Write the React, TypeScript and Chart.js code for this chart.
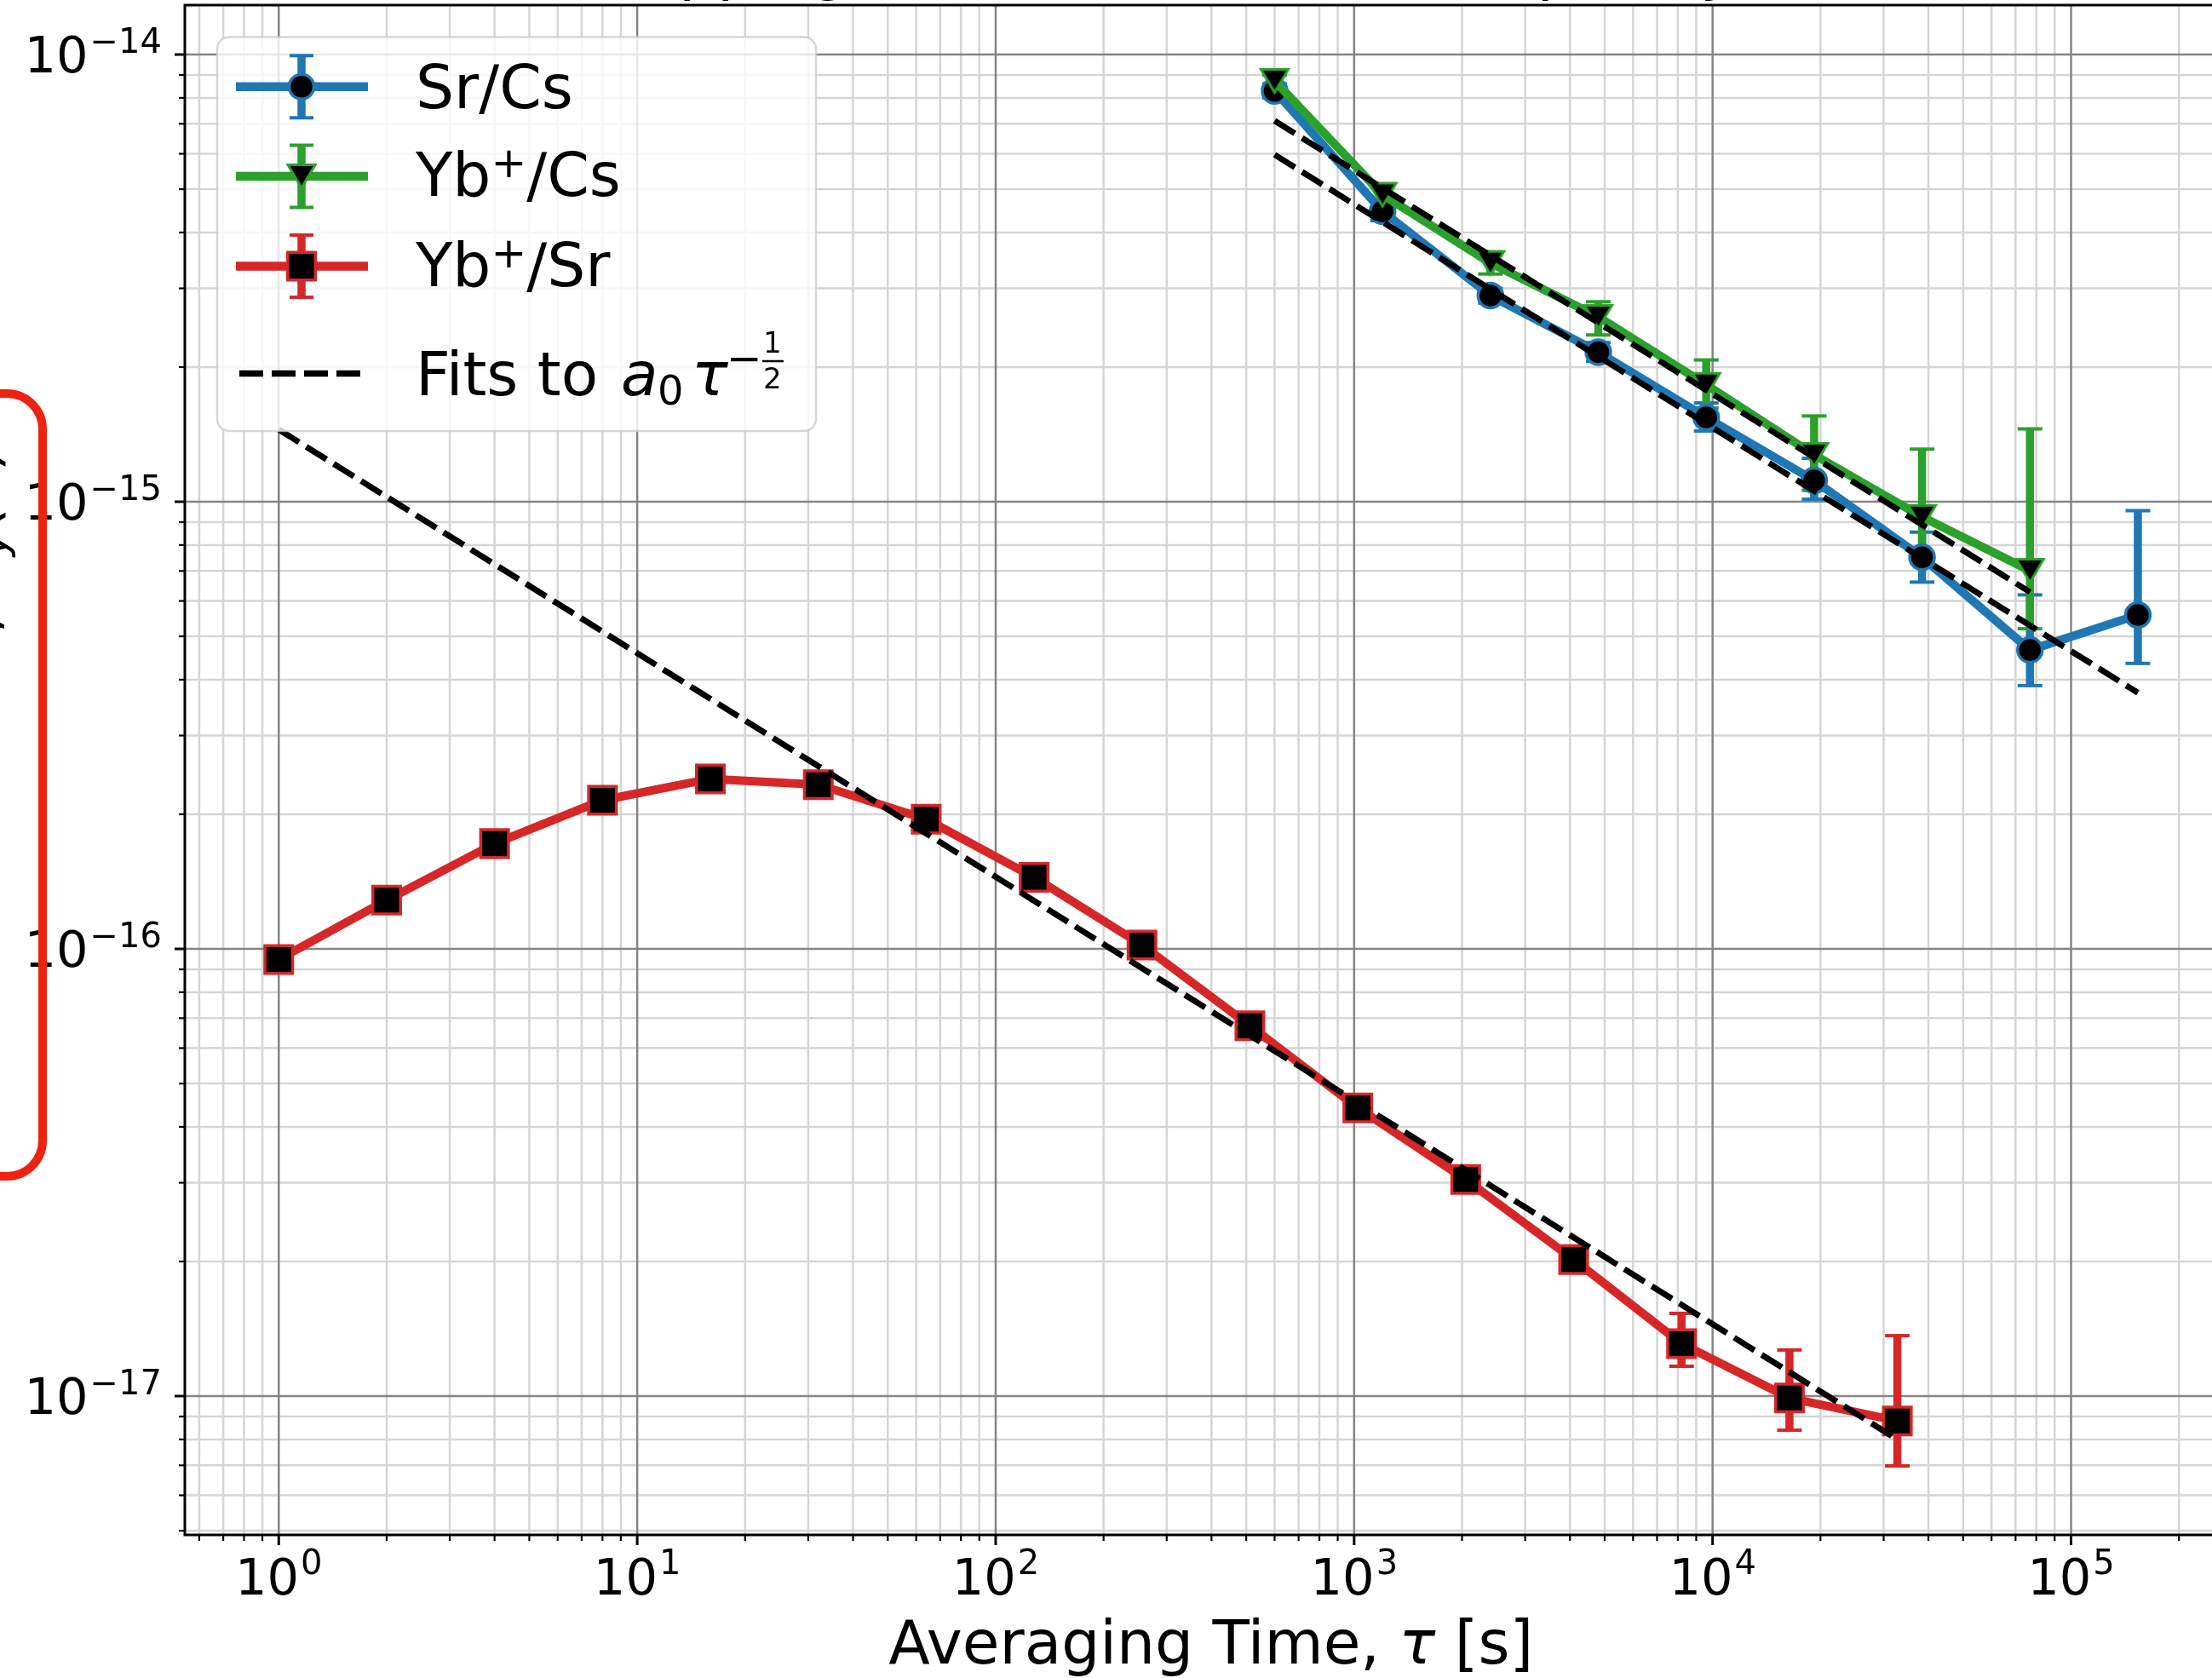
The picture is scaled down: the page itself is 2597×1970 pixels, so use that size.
import React, { useEffect, useRef } from 'react';
import { Chart, registerables } from 'chart.js';

Chart.register(...registerables);

// ---------------- data ----------------
const srCsTau = [600, 1200, 2400, 4800, 9600, 19200, 38400, 76800, 153600];
const srCsDev = [8.29e-15, 4.46e-15, 2.89e-15, 2.16e-15, 1.544e-15, 1.116e-15, 7.51e-16, 4.66e-16, 5.58e-16];
const srCsLo = [8.0e-15, 4.25e-15, 2.78e-15, 2.06e-15, 1.439e-15, 1.013e-15, 6.61e-16, 3.88e-16, 4.35e-16];
const srCsHi = [8.6e-15, 4.68e-15, 3.0e-15, 2.27e-15, 1.663e-15, 1.25e-15, 8.55e-16, 6.19e-16, 9.55e-16];

const ybCsTau = [600, 1200, 2400, 4800, 9600, 19200, 38400, 76800];
const ybCsDev = [8.73e-15, 4.86e-15, 3.42e-15, 2.59e-15, 1.826e-15, 1.273e-15, 9.25e-16, 7.01e-16];
const ybCsLo = [8.45e-15, 4.65e-15, 3.23e-15, 2.36e-15, 1.62e-15, 1.06e-15, 7.3e-16, 5.2e-16];
const ybCsHi = [9.0e-15, 5.1e-15, 3.62e-15, 2.8e-15, 2.075e-15, 1.555e-15, 1.311e-15, 1.455e-15];

const ybSrTau = [1, 2, 4, 8, 16, 32, 64, 128, 256, 512, 1024, 2048, 4096, 8192, 16384, 32768];
const ybSrDev = [9.47e-17, 1.285e-16, 1.72e-16, 2.15e-16, 2.4e-16, 2.33e-16, 1.95e-16, 1.445e-16, 1.02e-16, 6.73e-17, 4.41e-17, 3.05e-17, 2.02e-17, 1.31e-17, 9.9e-18, 8.8e-18];
const ybSrLo = [9.33e-17, 1.266e-16, 1.694e-16, 2.118e-16, 2.364e-16, 2.295e-16, 1.92e-16, 1.423e-16, 1.0e-16, 6.6e-17, 4.3e-17, 2.96e-17, 1.92e-17, 1.166e-17, 8.39e-18, 6.98e-18];
const ybSrHi = [9.61e-17, 1.304e-16, 1.746e-16, 2.182e-16, 2.436e-16, 2.365e-16, 1.98e-16, 1.467e-16, 1.04e-16, 6.86e-17, 4.52e-17, 3.14e-17, 2.15e-17, 1.531e-17, 1.268e-17, 1.365e-17];

const fitSrCsTau = [600, 153600];
const fitSrCsDev = [5.97e-15, 3.74e-16];
const fitYbCsTau = [600, 76800];
const fitYbCsDev = [7.11e-15, 6.28e-16];
const fitYbSrTau = [1, 32768];
const fitYbSrDev = [1.45e-15, 8.0e-18];

const xTickValues = [1, 10, 100, 1000, 10000, 100000];
const xTickExponents = ['0', '1', '2', '3', '4', '5'];
const yTickValues = [1e-17, 1e-16, 1e-15, 1e-14];
const yTickExponents = ['\u221217', '\u221216', '\u221215', '\u221214'];

const seriesNames = ['Sr/Cs', 'Yb+/Cs', 'Yb+/Sr'];
const xLabelParts = ['Averaging Time, ', '\u03c4', ' [s]'];
const titleText = 'Overlapping Allan Deviation of Frequency Ratios';
const yLabelParts = ['Allan Deviation, ', '\u03c3', 'y', '(', '\u03c4', ')'];

// ---------------- layout / style ----------------
const X_MIN = 0.547;
const X_MAX = 2.906e5;
const Y_MIN = 4.893e-18;
const Y_MAX = 1.2898e-14;

const OX = 100;
const OY = 100;
const CW = 2753;
const CH = 2070;

const BLUE = '#1f77b4';
const GREEN = '#2ca02c';
const RED = '#d62728';
const MAJOR_GRID = '#858585';
const MINOR_GRID = '#d5d5d5';
const FONT = '"DejaVu Sans"';
const DATA_LW = 10;

type Part = { t: string; size: number; italic?: boolean; dy?: number; dx?: number };

function fontStr(p: Part) {
  return `${p.italic ? 'italic ' : ''}${p.size}px ${FONT}`;
}
function partsWidth(ctx: CanvasRenderingContext2D, parts: Part[]) {
  let w = 0;
  for (const p of parts) {
    ctx.font = fontStr(p);
    w += ctx.measureText(p.t).width + (p.dx || 0);
  }
  return w;
}
function drawParts(ctx: CanvasRenderingContext2D, parts: Part[], x: number, y: number) {
  let cx = x;
  ctx.textAlign = 'left';
  ctx.textBaseline = 'alphabetic';
  for (const p of parts) {
    ctx.font = fontStr(p);
    cx += p.dx || 0;
    ctx.fillText(p.t, cx, y + (p.dy || 0));
    cx += ctx.measureText(p.t).width;
  }
}

function gridValues(e0: number, e1: number, lo: number, hi: number) {
  const out: { v: number; major: boolean }[] = [];
  for (let e = e0; e <= e1; e++) {
    for (let k = 1; k <= 9; k++) {
      const v = k * Math.pow(10, e);
      if (v >= lo * 0.9999 && v <= hi * 1.0001) out.push({ v, major: k === 1 });
    }
  }
  return out;
}

function makeTriangle(color: string) {
  const c = document.createElement('canvas');
  c.width = 46;
  c.height = 42;
  const g = c.getContext('2d')!;
  g.beginPath();
  g.moveTo(23 - 16, 21 - 13.5);
  g.lineTo(23 + 16, 21 - 13.5);
  g.lineTo(23, 21 + 13.5);
  g.closePath();
  g.fillStyle = '#000';
  g.fill();
  g.lineJoin = 'miter';
  g.lineWidth = 3;
  g.strokeStyle = color;
  g.stroke();
  return c;
}

function line(ctx: CanvasRenderingContext2D, x1: number, y1: number, x2: number, y2: number) {
  ctx.beginPath();
  ctx.moveTo(x1, y1);
  ctx.lineTo(x2, y2);
  ctx.stroke();
}

function roundRect(ctx: CanvasRenderingContext2D, x: number, y: number, w: number, h: number, r: number) {
  ctx.beginPath();
  ctx.moveTo(x + r, y);
  ctx.lineTo(x + w - r, y);
  ctx.arcTo(x + w, y, x + w, y + r, r);
  ctx.lineTo(x + w, y + h - r);
  ctx.arcTo(x + w, y + h, x + w - r, y + h, r);
  ctx.lineTo(x + r, y + h);
  ctx.arcTo(x, y + h, x, y + h - r, r);
  ctx.lineTo(x, y + r);
  ctx.arcTo(x, y, x + r, y, r);
  ctx.closePath();
}

function drawErrors(ctx: CanvasRenderingContext2D, xs: any, ys: any, tau: number[], lo: number[], hi: number[], color: string) {
  ctx.strokeStyle = color;
  ctx.lineCap = 'butt';
  for (let i = 0; i < tau.length; i++) {
    const x = xs.getPixelForValue(tau[i]);
    const y1 = ys.getPixelForValue(hi[i]);
    const y2 = ys.getPixelForValue(lo[i]);
    ctx.lineWidth = 9.5;
    line(ctx, x, y1, x, y2);
    ctx.lineWidth = 4;
    line(ctx, x - 14.5, y1, x + 14.5, y1);
    line(ctx, x - 14.5, y2, x + 14.5, y2);
  }
}

function toPoints(xv: number[], yv: number[]) {
  return xv.map((x, i) => ({ x, y: yv[i] }));
}

export default function App() {
  const ref = useRef<HTMLCanvasElement>(null);

  useEffect(() => {
    const canvas = ref.current!;
    document.body.style.overflow = 'hidden';
    const triGreen = makeTriangle(GREEN);

    const drawMarker = (ctx: CanvasRenderingContext2D, kind: number, x: number, y: number) => {
      ctx.fillStyle = '#000';
      ctx.lineWidth = 3.5;
      if (kind === 0) {
        ctx.strokeStyle = BLUE;
        ctx.beginPath();
        ctx.arc(x, y, 14.5, 0, Math.PI * 2);
        ctx.fill();
        ctx.stroke();
      } else if (kind === 1) {
        ctx.drawImage(triGreen, x - triGreen.width / 2, y - triGreen.height / 2);
      } else {
        ctx.strokeStyle = RED;
        ctx.beginPath();
        ctx.rect(x - 16.25, y - 16.25, 32.5, 32.5);
        ctx.fill();
        ctx.stroke();
      }
    };

    const plugin = {
      id: 'allanDecor',
      beforeDatasetsDraw(chart: any) {
        const ctx: CanvasRenderingContext2D = chart.ctx;
        const xs = chart.scales.x;
        const ys = chart.scales.y;
        const a = chart.chartArea;
        ctx.save();
        const xg = gridValues(-1, 5, X_MIN, X_MAX);
        const yg = gridValues(-18, -14, Y_MIN, Y_MAX);
        for (const major of [false, true]) {
          ctx.strokeStyle = major ? MAJOR_GRID : MINOR_GRID;
          ctx.lineWidth = 2.5;
          for (const g of xg) {
            if (g.major !== major) continue;
            const px = xs.getPixelForValue(g.v);
            line(ctx, px, a.top, px, a.bottom);
          }
          for (const g of yg) {
            if (g.major !== major) continue;
            const py = ys.getPixelForValue(g.v);
            line(ctx, a.left, py, a.right, py);
          }
        }
        drawErrors(ctx, xs, ys, srCsTau, srCsLo, srCsHi, BLUE);
        drawErrors(ctx, xs, ys, ybCsTau, ybCsLo, ybCsHi, GREEN);
        drawErrors(ctx, xs, ys, ybSrTau, ybSrLo, ybSrHi, RED);
        ctx.restore();
      },
      afterDatasetsDraw(chart: any) {
        const ctx: CanvasRenderingContext2D = chart.ctx;
        const xs = chart.scales.x;
        const ys = chart.scales.y;
        const a = chart.chartArea;
        ctx.save();

        // spines
        ctx.strokeStyle = '#000';
        ctx.lineWidth = 3;
        ctx.strokeRect(a.left, a.top, a.right - a.left, a.bottom - a.top);

        // tick marks
        const xg = gridValues(-1, 5, X_MIN, X_MAX);
        const yg = gridValues(-18, -14, Y_MIN, Y_MAX);
        for (const g of xg) {
          const px = xs.getPixelForValue(g.v);
          ctx.lineWidth = g.major ? 3 : 2.2;
          line(ctx, px, a.bottom, px, a.bottom + (g.major ? 12 : 7));
        }
        for (const g of yg) {
          const py = ys.getPixelForValue(g.v);
          ctx.lineWidth = g.major ? 3 : 2.2;
          line(ctx, a.left, py, a.left - (g.major ? 12 : 7), py);
        }

        // tick labels
        ctx.fillStyle = '#000';
        xTickValues.forEach((v, i) => {
          const px = xs.getPixelForValue(v);
          const parts: Part[] = [
            { t: '10', size: 59 },
            { t: xTickExponents[i], size: 40, dy: -24, dx: 2 },
          ];
          const w = partsWidth(ctx, parts);
          drawParts(ctx, parts, px - w / 2, a.bottom + 70);
        });
        yTickValues.forEach((v, i) => {
          const py = ys.getPixelForValue(v);
          const parts: Part[] = [
            { t: '10', size: 59 },
            { t: yTickExponents[i], size: 40, dy: -23, dx: 2 },
          ];
          const w = partsWidth(ctx, parts);
          drawParts(ctx, parts, OX + 190 - w, py + 21);
        });

        // x axis label
        const xl: Part[] = [
          { t: xLabelParts[0], size: 71 },
          { t: xLabelParts[1], size: 71, italic: true },
          { t: xLabelParts[2], size: 71 },
        ];
        const xlw = partsWidth(ctx, xl);
        drawParts(ctx, xl, (a.left + a.right) / 2 - xlw / 2, OY + 1953);

        // title (mostly above the visible crop)
        ctx.font = `71px ${FONT}`;
        ctx.textAlign = 'center';
        ctx.fillText(titleText, (a.left + a.right) / 2, OY - 14);

        // y axis label (mostly left of the visible crop)
        ctx.save();
        ctx.translate(OX - 3, (a.top + a.bottom) / 2);
        ctx.rotate(-Math.PI / 2);
        const yl: Part[] = [
          { t: yLabelParts[0], size: 71 },
          { t: yLabelParts[1], size: 71, italic: true },
          { t: yLabelParts[2], size: 50, italic: true, dy: 11 },
          { t: yLabelParts[3], size: 71 },
          { t: yLabelParts[4], size: 71, italic: true },
          { t: yLabelParts[5], size: 71 },
        ];
        const ylw = partsWidth(ctx, yl);
        drawParts(ctx, yl, -ylw / 2, 0);
        ctx.restore();

        // legend
        ctx.save();
        ctx.translate(OX, OY);
        roundRect(ctx, 255, 43.6, 703, 462.4, 14);
        ctx.fillStyle = 'rgba(255,255,255,0.8)';
        ctx.fill();
        ctx.strokeStyle = 'rgba(204,204,204,0.8)';
        ctx.lineWidth = 2.5;
        ctx.stroke();

        const rowY = [101.8, 207, 312.5];
        const rowBase = [126.8, 230.4, 335.7];
        const colors = [BLUE, GREEN, RED];
        for (let i = 0; i < 3; i++) {
          const y = rowY[i];
          ctx.strokeStyle = colors[i];
          ctx.lineCap = 'butt';
          ctx.lineWidth = 10.5;
          line(ctx, 277, y, 432, y);
          ctx.lineWidth = 9.5;
          line(ctx, 354, y - 36.5, 354, y + 36.5);
          ctx.lineWidth = 4;
          line(ctx, 340, y - 36.5, 368, y - 36.5);
          line(ctx, 340, y + 36.5, 368, y + 36.5);
          drawMarker(ctx, i, 354, y);
          ctx.fillStyle = '#000';
          const name = seriesNames[i];
          let parts: Part[];
          if (name.indexOf('+') >= 0) {
            const [head, tail] = name.split('+');
            parts = [
              { t: head, size: 71 },
              { t: '+', size: 50, dy: -22 },
              { t: tail, size: 71 },
            ];
          } else {
            parts = [{ t: name, size: 71 }];
          }
          drawParts(ctx, parts, 488, rowBase[i]);
        }
        // fit legend entry
        ctx.strokeStyle = '#000';
        ctx.lineWidth = 7.5;
        ctx.setLineDash([28, 10]);
        line(ctx, 281, 438.6, 424, 438.6);
        ctx.setLineDash([]);
        ctx.fillStyle = '#000';
        drawParts(ctx, [{ t: 'Fits to ', size: 71 }], 488, 463.6);
        drawParts(ctx, [{ t: 'a', size: 71, italic: true }], 729, 463.6);
        drawParts(ctx, [{ t: '0', size: 48 }], 772, 475);
        drawParts(ctx, [{ t: '\u03c4', size: 71, italic: true }], 812, 463.6);
        drawParts(ctx, [{ t: '\u2212', size: 50 }], 853, 437.5);
        drawParts(ctx, [{ t: '1', size: 34 }], 896, 414);
        drawParts(ctx, [{ t: '2', size: 34 }], 896, 456);
        ctx.lineWidth = 2.5;
        line(ctx, 895, 424, 920, 424);
        ctx.restore();

        // red annotation box on the left edge
        ctx.save();
        ctx.translate(OX, OY);
        roundRect(ctx, -60, 462, 110, 919, 42);
        ctx.strokeStyle = '#ee2211';
        ctx.lineWidth = 10;
        ctx.stroke();
        ctx.restore();

        ctx.restore();
      },
    };

    const fitStyle = {
      borderColor: '#000',
      borderWidth: 7,
      borderDash: [28, 10],
      pointRadius: 0,
      fill: false,
      order: 0,
    };

    const chart = new Chart(canvas, {
      type: 'line',
      data: {
        datasets: [
          { label: 'fit Sr/Cs', data: toPoints(fitSrCsTau, fitSrCsDev), ...fitStyle },
          { label: 'fit Yb+/Cs', data: toPoints(fitYbCsTau, fitYbCsDev), ...fitStyle },
          { label: 'fit Yb+/Sr', data: toPoints(fitYbSrTau, fitYbSrDev), ...fitStyle },
          {
            label: seriesNames[0],
            data: toPoints(srCsTau, srCsDev),
            borderColor: BLUE,
            borderWidth: DATA_LW,
            borderJoinStyle: 'round',
            pointStyle: 'circle',
            pointRadius: 14.5,
            pointBackgroundColor: '#000',
            pointBorderColor: BLUE,
            pointBorderWidth: 3.5,
            fill: false,
            order: 3,
          },
          {
            label: seriesNames[1],
            data: toPoints(ybCsTau, ybCsDev),
            borderColor: GREEN,
            borderWidth: DATA_LW,
            borderJoinStyle: 'round',
            pointStyle: triGreen,
            pointRadius: 14,
            fill: false,
            order: 2,
          },
          {
            label: seriesNames[2],
            data: toPoints(ybSrTau, ybSrDev),
            borderColor: RED,
            borderWidth: DATA_LW,
            borderJoinStyle: 'round',
            pointStyle: 'rect',
            pointRadius: 23,
            pointBackgroundColor: '#000',
            pointBorderColor: RED,
            pointBorderWidth: 3.5,
            fill: false,
            order: 1,
          },
        ] as any,
      },
      options: {
        responsive: false,
        animation: false,
        devicePixelRatio: 1,
        events: [],
        layout: { padding: { left: 317, top: 106, right: 20, bottom: 168 } },
        plugins: {
          legend: { display: false },
          tooltip: { enabled: false },
          title: { display: false },
        },
        scales: {
          x: { type: 'logarithmic', min: X_MIN, max: X_MAX, display: false },
          y: { type: 'logarithmic', min: Y_MIN, max: Y_MAX, display: false },
        },
      } as any,
      plugins: [plugin],
    });

    return () => chart.destroy();
  }, []);

  return (
    <div
      style={{
        position: 'absolute',
        left: 0,
        top: 0,
        width: 2597,
        height: 1970,
        overflow: 'hidden',
        background: '#ffffff',
      }}
    >
      <canvas
        ref={ref}
        width={CW}
        height={CH}
        style={{ position: 'absolute', left: -OX, top: -OY, width: CW, height: CH }}
      />
    </div>
  );
}
